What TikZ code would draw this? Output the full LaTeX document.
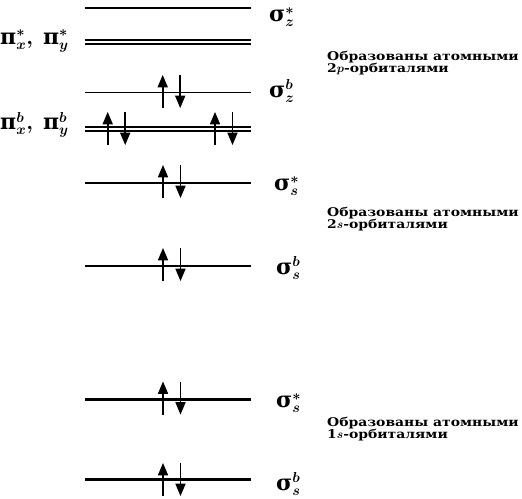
\documentclass[tikz,border=0pt]{standalone}
\usepackage{fontspec}
\usepackage{amsmath}
\usepackage{bm}
\usetikzlibrary{arrows}
\newfontfamily\rufont{DejaVu Serif}[FakeStretch=1.16]
\newfontfamily\grfont{DejaVu Serif}
\tikzset{
	level/.style = {
		line width=2.8pt
	},
	level_thin/.style = {
		line width=1.8pt
	},
	level_double/.style = {
		double,
		line width=1.9pt,
		double distance=1.3pt
	},
	spin/.style = {
		line width=1.9pt,
		-triangle 45
	},
	lbl/.style = {
		inner sep=0pt,
		anchor=west,
		font=\fontsize{22}{22}\selectfont
	},
	note/.style = {
		inner sep=0pt,
		align=left,
		anchor=north west,
		font=\rufont\bfseries\fontsize{12}{12.2}\selectfont
	}
}
% a pair of electrons (up, down) on the level at height #2
\newcommand{\electrons}[2]{
	\draw[spin] (#1,#2+16) -- (#1,#2-17);
	\draw[spin] (#1+17.5,#2-17) -- (#1+17.5,#2+16);
}
% bold upright greek letter
\newcommand{\gr}[1]{\text{\grfont\bfseries #1}}

\begin{document}
\begin{tikzpicture}[x=1pt,y=-1pt]
\useasboundingbox (0,0) rectangle (522,498);
% 2p levels
\draw[level] (85,8) -- (251,8);
\draw[level_double] (85,42) -- (251,42);
\draw[level_thin] (85,92.5) -- (251,92.5);
\draw[level_double] (85,129) -- (251,129);
\electrons{162.7}{92}
\electrons{107.7}{129}
\electrons{215}{129}
% 2s levels
\draw[level] (85,183) -- (251,183);
\draw[level_thin] (85,266) -- (251,266);
\electrons{163}{182}
\electrons{163}{265}
% 1s levels
\draw[level] (85,399.5) -- (251,399.5);
\draw[level] (85,479.5) -- (251,479.5);
\electrons{163}{398.5}
\electrons{163}{480}
% labels
\node[lbl] (sz_a) at (269,17) {$\gr{σ}^{\bm{*}}_{\bm{z}}$};
\node[lbl] (pxy_a) at (0,41) {$\gr{π}^{\bm{*}}_{\bm{x}}\bm{,}\ \gr{π}^{\bm{*}}_{\bm{y}}$};
\node[lbl] (sz_b) at (269,91) {$\gr{σ}^{\bm{b}}_{\bm{z}}$};
\node[lbl] (pxy_b) at (0,125) {$\gr{π}^{\bm{b}}_{\bm{x}}\bm{,}\ \gr{π}^{\bm{b}}_{\bm{y}}$};
\node[lbl] (s2_a) at (274,186) {$\gr{σ}^{\bm{*}}_{\bm{s}}$};
\node[lbl] (s2_b) at (276,268) {$\gr{σ}^{\bm{b}}_{\bm{s}}$};
\node[lbl] (s1_a) at (276,403) {$\gr{σ}^{\bm{*}}_{\bm{s}}$};
\node[lbl] (s1_b) at (276,484) {$\gr{σ}^{\bm{b}}_{\bm{s}}$};
\node[note] (n2p) at (327,51) {Образованы атомными\\2$\bm{p}$-орбиталями};
\node[note] (n2s) at (327,207) {Образованы атомными\\2$\bm{s}$-орбиталями};
\node[note] (n1s) at (327,417) {Образованы атомными\\1$\bm{s}$-орбиталями};
\end{tikzpicture}
\end{document}
